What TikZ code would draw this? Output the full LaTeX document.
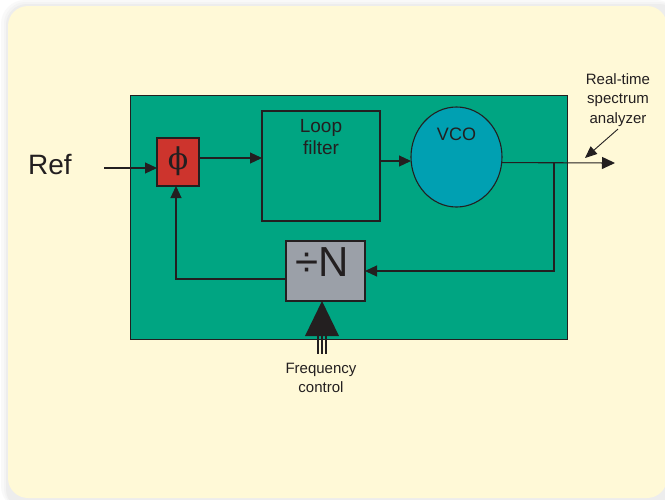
\documentclass[tikz,border=0pt]{standalone}
\usepackage{fontspec}
\setmainfont{Liberation Sans}
\newfontfamily\phifont{DejaVu Serif}
\usetikzlibrary{arrows.meta,shapes.geometric}
\definecolor{cream}{RGB}{255,249,215}
\definecolor{plgreen}{RGB}{0,165,130}
\definecolor{phired}{RGB}{205,52,45}
\definecolor{vcoblue}{RGB}{0,160,178}
\definecolor{divgray}{RGB}{155,160,168}
\definecolor{ink}{RGB}{35,31,32}
\begin{document}
\begin{tikzpicture}[x=1pt,y=-1pt,line width=1.1pt,
  blockbox/.style={draw=ink,rectangle,inner sep=0pt,outer sep=0pt},
  arr/.style={draw=ink,-{Triangle[length=12pt,width=11pt]}},
  bigarr/.style={draw=ink,-{Triangle[length=13pt,width=12pt]}},
  lbl/.style={text=ink,inner sep=0pt,align=center}]
\useasboundingbox (0,0) rectangle (665,499);
\begin{scope}
\clip (0,0) rectangle (665,499);
\fill[white] (0,0) rectangle (665,499);
\fill[gray!5,rounded corners=24pt] (1,0) rectangle (680,510);
\fill[gray!9,rounded corners=22pt] (4,2) rectangle (680,510);
\fill[gray!14,rounded corners=21pt] (6,4) rectangle (680,510);
\fill[cream,rounded corners=20pt] (8,6) rectangle (667,498);
\end{scope}
% plant
\node[blockbox,fill=plgreen,line width=0.8pt,minimum width=437pt,minimum height=244pt] (plant) at (348.5,217) {};
% blocks
\node[blockbox,fill=phired,minimum width=42pt,minimum height=48pt] (phi) at (178,162) {};
\node[lbl,font=\phifont\fontsize{30}{30}\selectfont] (phitxt) at (178,161) {ϕ};
\node[blockbox,minimum width=118pt,minimum height=110pt] (loop) at (321,166) {};
\node[lbl,font=\fontsize{19}{22}\selectfont,anchor=north] (looptxt) at (321,119) {Loop\\filter};
\node[draw=ink,ellipse,fill=vcoblue,inner sep=0pt,outer sep=0pt,minimum width=91pt,minimum height=100pt] (vco) at (456.5,157) {};
\node[lbl,font=\fontsize{18}{20}\selectfont] (vcotxt) at (456.5,134) {VCO};
\node[blockbox,fill=divgray,minimum width=79pt,minimum height=60pt] (divn) at (325.5,271) {};
\node[lbl,font=\fontsize{42}{42}\selectfont] (divtxt) at (322,262) {÷N};
% labels
\node[lbl,font=\fontsize{28}{30}\selectfont] (ref) at (50,165) {Ref};
\node[lbl,font=\fontsize{15}{19.5}\selectfont] (ana) at (618,100) {Real-time\\spectrum\\analyzer};
\node[lbl,font=\fontsize{15}{19.5}\selectfont] (freq) at (321,378) {Frequency\\control};
% coordinates
\coordinate (refin) at (104,168);
\coordinate (branch) at (554,163);
\coordinate (out) at (615,163);
\coordinate (anatip) at (585,158);
\coordinate (fc) at (322,336);
% connectors
\draw[arr] (refin) -- (refin -| phi.west);
\draw[arr] ([yshift=4pt]phi.east) -- ([yshift=4pt]phi.east -| loop.west);
\draw[arr] ([yshift=5pt]loop.east) -- ([yshift=5pt]loop.east -| vco.west);
\draw[bigarr] (vco.-7) -- (out);
\draw[arr] (branch) |- (divn.east);
\draw[arr] ([yshift=-8pt]divn.west) -| ([xshift=-2pt]phi.south);
\draw[line width=0.9pt,-{Triangle[length=12pt,width=10pt]},draw=ink] ([yshift=-2pt]ana.south) -- (anatip);
% frequency control arrow
\fill[ink] ([xshift=-17pt]fc) -- ([xshift=17pt]fc) -- (fc |- divn.south) -- cycle;
\foreach \dx in {-4,0,4}{
  \draw[ink,line width=1.3pt] ([xshift=\dx pt]fc) -- ([xshift=\dx pt,yshift=-18pt]fc);
}
\end{tikzpicture}
\end{document}
